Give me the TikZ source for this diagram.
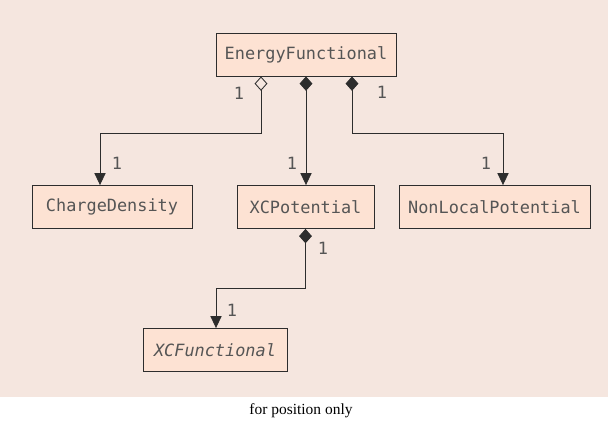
\documentclass[tikz,border=0pt]{standalone}
\usepackage{fontspec}
\setmainfont{Liberation Serif}
\setmonofont{DejaVu Sans Mono}
\usepackage{tikz}
\usetikzlibrary{arrows.meta}
\definecolor{bgpink}{RGB}{245,230,223}
\definecolor{boxpeach}{RGB}{253,226,211}
\definecolor{linegray}{RGB}{45,45,45}
\definecolor{textgray}{RGB}{85,85,85}

\begin{document}
\begin{tikzpicture}[
        umlclass/.style={draw=linegray, fill=boxpeach, line width=0.6pt, minimum height=1.075cm, inner sep=0pt, text=textgray, font=\ttfamily\fontsize{12}{14}\selectfont},
        mult/.style={text=textgray, inner sep=0pt, font=\ttfamily\fontsize{12}{14}\selectfont},
        assoc/.style={draw=linegray, line width=0.6pt},
        aggr/.style={assoc, arrows={Diamond[open,length=0.36cm,width=0.32cm]-Triangle[length=0.3cm,width=0.28cm]}},
        comp/.style={assoc, arrows={Diamond[length=0.36cm,width=0.32cm]-Triangle[length=0.3cm,width=0.28cm]}}
    ]
        \fill[bgpink] (0,0) rectangle (15.2,-9.925);
        \useasboundingbox (0,0) rectangle (15.2,-10.525);

        \node[umlclass, minimum width=4.5cm] (energy) at (7.65,-1.3625) {EnergyFunctional};
        \node[umlclass, minimum width=4cm] (charge) at (2.8,-5.175) {ChargeDensity};
        \node[umlclass, minimum width=3.425cm] (xcpot) at (7.6375,-5.175) {XCPotential};
        \node[umlclass, minimum width=4.775cm] (nonlocal) at (12.3625,-5.175) {NonLocalPotential};
        \node[umlclass, minimum width=3.6cm] (xcfunc) at (5.375,-8.75) {\itshape XCFunctional};

        \draw[aggr] ([xshift=-1.125cm]energy.south) -- ++(0,-1.425) -| ([xshift=-0.3cm]charge.north);
        \draw[comp] (energy.south) -- (energy.south |- xcpot.north);
        \draw[comp] ([xshift=1.15cm]energy.south) -- ++(0,-1.425) -| ([xshift=0.2125cm]nonlocal.north);
        \draw[comp] (xcpot.south) -- ++(0,-1.4875) -| ([xshift=0.025cm]xcfunc.north);

        \node[mult] (m1) at (5.975,-2.325) {1};
        \node[mult] (m2) at (9.55,-2.3) {1};
        \node[mult] (m3) at (2.925,-4.075) {1};
        \node[mult] (m4) at (7.3,-4.075) {1};
        \node[mult] (m5) at (12.15,-4.075) {1};
        \node[mult] (m6) at (8.075,-6.2) {1};
        \node[mult] (m7) at (5.8,-7.75) {1};

        \node[font=\fontsize{11}{13}\selectfont] (caption) at (7.525,-10.28) {for position only};
    \end{tikzpicture}
\end{document}
